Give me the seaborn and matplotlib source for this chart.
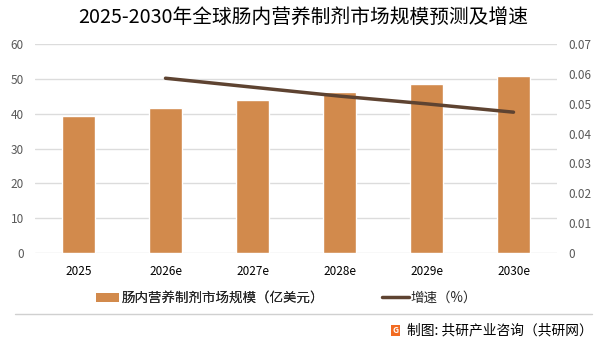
import matplotlib
matplotlib.use("Agg")
import matplotlib.pyplot as plt
import seaborn as sns
import pandas as pd
from matplotlib.patches import Patch, Rectangle
from matplotlib.lines import Line2D

sns.set_theme(style="white")
plt.rcParams['font.family'] = ['Noto Sans CJK SC', 'DejaVu Sans']

years = ["2025", "2026e", "2027e", "2028e", "2029e", "2030e"]
market_size = [39.4, 41.7, 44.0, 46.3, 48.6, 50.9]
growth_years = ["2026e", "2027e", "2028e", "2029e", "2030e"]
growth_rate = [0.0586, 0.0556, 0.0526, 0.0500, 0.0472]
left_ticks = [0, 10, 20, 30, 40, 50, 60]
right_ticks = [0, 0.01, 0.02, 0.03, 0.04, 0.05, 0.06, 0.07]
right_labels = ["0", "0.01", "0.02", "0.03", "0.04", "0.05", "0.06", "0.07"]

bar_color = "#D28A4C"
line_color = "#5E4331"

df = pd.DataFrame({"year": years, "size": market_size})
gdf = pd.DataFrame({"year": growth_years, "rate": growth_rate})
gdf["pos"] = [years.index(y) for y in growth_years]

fig = plt.figure(figsize=(6.01, 3.45), dpi=100)
W, H = 601, 345
ax = fig.add_axes([35 / W, 1 - 252.7 / H, 522 / W, (252.7 - 44.3) / H])

sns.barplot(data=df, x="year", y="size", color=bar_color, width=0.38,
            saturation=1, ax=ax, zorder=2)
ax.set_ylim(0, 60)
ax.set_xlim(-0.5, 5.5)
ax.set_yticks(left_ticks)
ax.set_yticklabels([str(t) for t in left_ticks])
ax.yaxis.grid(True, color="#DCDCDC", linewidth=1, zorder=0)
ax.set_axisbelow(True)
ax.set_xlabel("")
ax.set_ylabel("")
for s in ax.spines.values():
    s.set_visible(False)
ax.tick_params(axis="y", colors="#595959", labelsize=8.5, length=0, pad=8)
ax.tick_params(axis="x", colors="#000000", labelsize=8.5, length=0, pad=9)

ax2 = ax.twinx()
sns.lineplot(data=gdf, x="pos", y="rate", color=line_color, linewidth=2.5,
             ax=ax2, zorder=3)
ax2.set_ylim(0, 0.07)
ax2.set_yticks(right_ticks)
ax2.set_yticklabels(right_labels)
ax2.set_xlim(-0.5, 5.5)
ax2.set_ylabel("")
ax2.set_xlabel("")
for s in ax2.spines.values():
    s.set_visible(False)
ax2.tick_params(axis="y", colors="#595959", labelsize=8.5, length=0, pad=8)

fig.text(303 / W, 1 - 17 / H, "2025-2030年全球肠内营养制剂市场规模预测及增速",
         ha="center", va="center", fontsize=14.2, color="#000000")

# legends
leg1 = fig.legend([Patch(facecolor=bar_color, edgecolor="none")],
                  ["肠内营养制剂市场规模（亿美元）"], loc="center left",
                  bbox_to_anchor=(96 / W, 1 - 298 / H), frameon=False,
                  fontsize=9.7, handlelength=1.7, handleheight=0.6,
                  handletextpad=0.2, borderpad=0, borderaxespad=0)
fig.add_artist(leg1)
fig.legend([Line2D([0], [0], color=line_color, linewidth=2.5)], ["增速（%）"],
           loc="center left", bbox_to_anchor=(382 / W, 1 - 298 / H),
           frameon=False, fontsize=9.7, handlelength=2.0, handletextpad=0.1,
           borderpad=0, borderaxespad=0)

# separator and source
fig.add_artist(Line2D([15 / W, 592 / W], [1 - 314 / H, 1 - 314 / H],
                      color="#D0D0D0", linewidth=1))
fig.add_artist(Rectangle((391 / W, 1 - 336 / H), 9 / W, 11 / H,
                         facecolor="#F26B21", edgecolor="none",
                         transform=fig.transFigure))
fig.text(395.5 / W, 1 - 330.5 / H, "G", ha="center", va="center", fontsize=6,
         color="white", fontweight="bold")
fig.text(407 / W, 1 - 330 / H, "制图: 共研产业咨询（共研网）", ha="left",
         va="center", fontsize=9.9, color="#000000")

fig.savefig("out.png", dpi=100)
